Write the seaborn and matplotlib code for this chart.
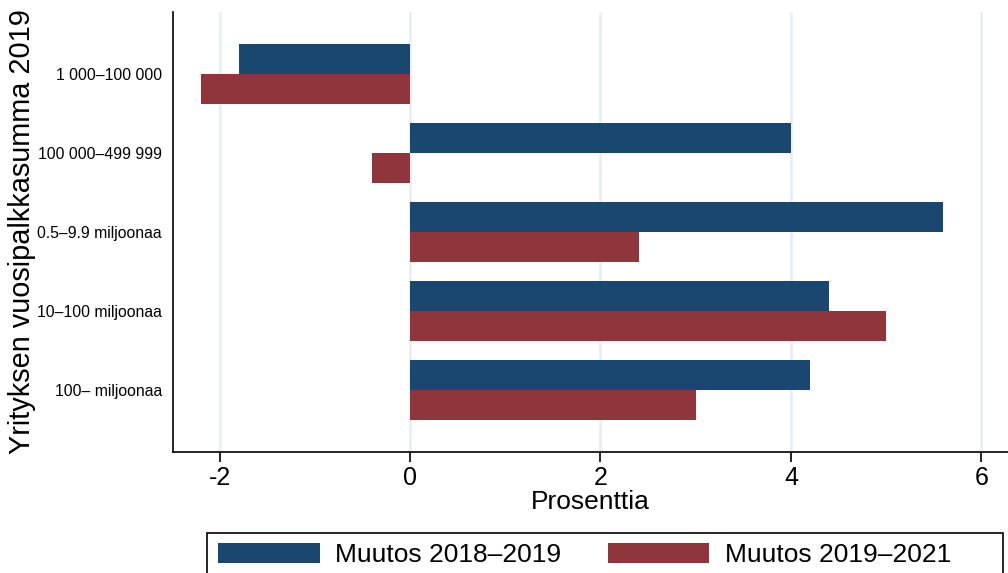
import matplotlib
matplotlib.use("Agg")
import matplotlib.pyplot as plt
import matplotlib.patches as mpatches
import seaborn as sns
import pandas as pd

categories = ["1 000–100 000", "100 000–499 999", "0.5–9.9 miljoonaa",
              "10–100 miljoonaa", "100– miljoonaa"]
series_names = ["Muutos 2018–2019", "Muutos 2019–2021"]
muutos_2018_2019 = [-1.8, 4.0, 5.6, 4.4, 4.2]
muutos_2019_2021 = [-2.2, -0.4, 2.4, 5.0, 3.0]
x_ticks = [-2, 0, 2, 4, 6]
colors = ["#1a476f", "#90353b"]

df = pd.DataFrame({
    "cat": categories * 2,
    "series": [series_names[0]] * 5 + [series_names[1]] * 5,
    "value": muutos_2018_2019 + muutos_2019_2021,
})

sns.set_theme(style="white")
plt.rcParams["font.family"] = ["Liberation Sans", "DejaVu Sans"]

fig = plt.figure(figsize=(10.08, 5.73), dpi=100)
ax = fig.add_axes([173/1008, 1 - 452/573, 1 - 173/1008, (452 - 12)/573])

sns.barplot(data=df, x="value", y="cat", hue="series", order=categories,
            hue_order=series_names, palette=colors, orient="h", width=0.76,
            saturation=1, ax=ax, legend=True, edgecolor="none", linewidth=0)

ax.set_xlim(-2.49, 6.28)
ax.set_ylim(4.785, -0.785)
ax.set_xticks(x_ticks)
ax.set_xticklabels([str(t) for t in x_ticks], fontsize=18, color="black")
ax.tick_params(axis="x", length=7, width=1.2, color="black", pad=3, bottom=True,
               labelcolor="black")
ax.tick_params(axis="y", length=0, labelsize=11.3, pad=8, labelcolor="black")
ax.grid(axis="x", color="#e6eff1", linewidth=1.8, zorder=0)
ax.set_axisbelow(True)
ax.grid(axis="y", visible=False)
for s in ["top", "right"]:
    ax.spines[s].set_visible(False)
for s in ["left", "bottom"]:
    ax.spines[s].set_color("black")
    ax.spines[s].set_linewidth(1.2)

ax.set_xlabel("Prosenttia", fontsize=19, labelpad=0, color="black")
ax.set_ylabel("Yrityksen vuosipalkkasumma 2019", fontsize=20.8, labelpad=1, color="black")

handles, labels = ax.get_legend_handles_labels()
ax.get_legend().remove()
leg = fig.legend(handles, labels, loc="upper left",
                 bbox_to_anchor=(218/1008, 1 - 543/573),
                 ncol=2, fontsize=19, frameon=False,
                 handlelength=3.85, handleheight=0.8, handletextpad=0.6,
                 borderpad=0, columnspacing=1.75, borderaxespad=0)
for t in leg.get_texts():
    t.set_color("black")

frame = mpatches.Rectangle((207/1008, -0.05), (1003 - 207)/1008, 0.05 + (573 - 533)/573,
                           transform=fig.transFigure, fill=False,
                           edgecolor="black", linewidth=1.2)
fig.patches.append(frame)

fig.savefig("out.png", dpi=100)
